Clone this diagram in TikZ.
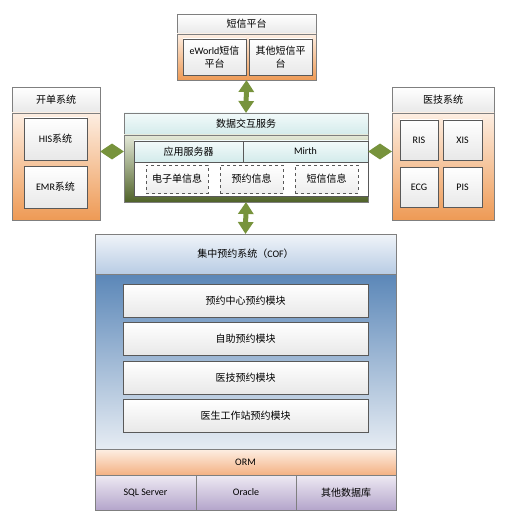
\documentclass[tikz,border=0pt]{standalone}
\usepackage{fontspec}
\setmainfont{Noto Sans CJK SC}
\newfontfamily\lat{Carlito}
\usetikzlibrary{arrows.meta}

\definecolor{frame}{HTML}{7F7F7F}
\definecolor{itemframe}{HTML}{595959}
\definecolor{orgL}{HTML}{FDEEE2}
\definecolor{orgD}{HTML}{EE9A55}
\definecolor{tealL}{HTML}{F2FAFA}
\definecolor{tealD}{HTML}{D3EBEB}
\definecolor{oliveL}{HTML}{E4E9D8}
\definecolor{oliveD}{HTML}{4F6228}
\definecolor{blueHL}{HTML}{F0F4F9}
\definecolor{blueHD}{HTML}{B8CCE4}
\definecolor{blueT}{HTML}{5B87B8}
\definecolor{blueB}{HTML}{E6ECF3}
\definecolor{ormL}{HTML}{FDEFE4}
\definecolor{ormD}{HTML}{F4B183}
\definecolor{lavL}{HTML}{EEEAF3}
\definecolor{lavD}{HTML}{B4A5CB}
\definecolor{arrowgreen}{HTML}{77933C}

\tikzset{
  box/.style={anchor=north west, inner sep=0pt, outer sep=0pt, align=center,
    draw=frame, line width=0.6pt},
  hdr/.style={top color=white, bottom color=black!9},
  orgbody/.style={top color=orgL, bottom color=orgD},
  item/.style={draw=itemframe, top color=white, bottom color=black!9},
  tealbox/.style={top color=tealL, bottom color=tealD},
  olivebody/.style={top color=oliveL, bottom color=oliveD},
  infobox/.style={draw=itemframe, dashed, line width=0.8pt, top color=white, bottom color=black!7},
  bigarrow/.style={draw=arrowgreen, line width=5pt,
    {Triangle[width=15pt,length=12pt]}-{Triangle[width=15pt,length=12pt]}}
}

\begin{document}
\begin{tikzpicture}[x=1pt, y=-1pt, font=\fontsize{10}{12.5}\selectfont]
\useasboundingbox (0,0) rectangle (506,513);

% 短信平台
\node[box, hdr, minimum width=139, minimum height=20] (smshead) at (177,14) {短信平台};
\node[box, orgbody, minimum width=139, minimum height=46] (smsbody) at (177,34) {};
\node[box, item, minimum width=63, minimum height=36] (eworld) at (183,39) {{\lat eWorld}短信\\平台};
\node[box, item, minimum width=63, minimum height=36] (othersms) at (249,39) {其他短信平\\台};

% 开单系统
\node[box, hdr, minimum width=88, minimum height=26] (kdhead) at (12,87) {开单系统};
\node[box, orgbody, minimum width=88, minimum height=107] (kdbody) at (12,113) {};
\node[box, item, minimum width=63, minimum height=42] (his) at (24,118) {{\lat HIS}系统};
\node[box, item, minimum width=63, minimum height=42] (emr) at (24,166) {{\lat EMR}系统};

% 医技系统
\node[box, hdr, minimum width=102, minimum height=26] (yjhead) at (392,87) {医技系统};
\node[box, orgbody, minimum width=102, minimum height=107] (yjbody) at (392,113) {};
\node[box, item, minimum width=38, minimum height=40] (ris) at (400,120) {\lat RIS};
\node[box, item, minimum width=39, minimum height=40] (xis) at (443,120) {\lat XIS};
\node[box, item, minimum width=38, minimum height=40] (ecg) at (400,167) {\lat ECG};
\node[box, item, minimum width=39, minimum height=40] (pis) at (443,167) {\lat PIS};

% 数据交互服务
\node[box, tealbox, minimum width=244, minimum height=22] (dxhead) at (124,113) {数据交互服务};
\node[box, olivebody, minimum width=244, minimum height=67] (dxbody) at (124,135) {};
\node[box, draw=itemframe, tealbox, minimum width=109, minimum height=21] (appsrv) at (134,141) {应用服务器};
\node[box, draw=itemframe, tealbox, minimum width=125, minimum height=21] (mirth) at (243,141) {\lat Mirth};
\node[box, draw=itemframe, fill=white, minimum width=234, minimum height=34] (inforow) at (134,162) {};
\node[box, infobox, minimum width=62, minimum height=28] (eorder) at (146,165) {电子单信息};
\node[box, infobox, minimum width=63, minimum height=28] (yyinfo) at (220,165) {预约信息};
\node[box, infobox, minimum width=63, minimum height=28] (dxinfo) at (295,165) {短信信息};

% 集中预约系统
\node[box, top color=blueHL, bottom color=blueHD, minimum width=301, minimum height=40] (cofhead) at (95,234) {集中预约系统（{\lat COF}）};
\node[box, top color=blueT, bottom color=blueB, minimum width=301, minimum height=175] (cofbody) at (95,274) {};
\node[box, item, minimum width=245, minimum height=33] (mod1) at (123,284) {预约中心预约模块};
\node[box, item, minimum width=245, minimum height=33] (mod2) at (123,322) {自助预约模块};
\node[box, item, minimum width=245, minimum height=33] (mod3) at (123,361) {医技预约模块};
\node[box, item, minimum width=245, minimum height=33] (mod4) at (123,399) {医生工作站预约模块};
\node[box, top color=ormL, bottom color=ormD, minimum width=301, minimum height=26] (orm) at (95,449) {\lat ORM};
\node[box, top color=lavL, bottom color=lavD, minimum width=101, minimum height=35] (sqlsrv) at (95,475) {\lat SQL Server};
\node[box, top color=lavL, bottom color=lavD, minimum width=100, minimum height=35] (oracle) at (196,475) {\lat Oracle};
\node[box, top color=lavL, bottom color=lavD, minimum width=100, minimum height=35] (otherdb) at (296,475) {其他数据库};

% 连接
\draw[bigarrow] (smsbody.south) -- (dxhead.north);
\draw[bigarrow] (kdbody.east |- mirth.west) -- (dxbody.west |- mirth.west);
\draw[bigarrow] (dxbody.east |- mirth.east) -- (yjbody.west |- mirth.east);
\draw[bigarrow] (dxbody.south) -- (cofhead.north);
\end{tikzpicture}
\end{document}
